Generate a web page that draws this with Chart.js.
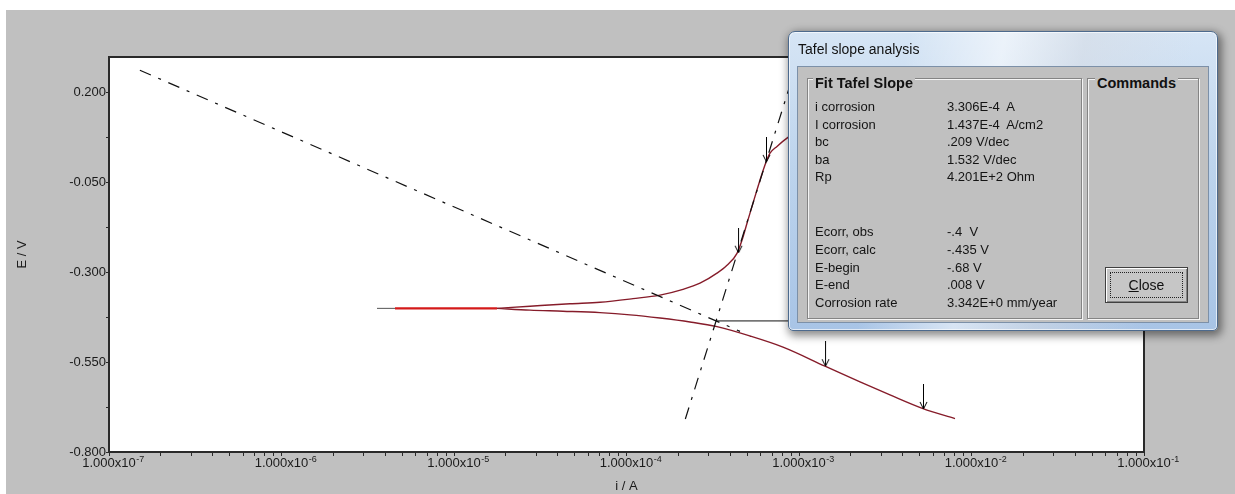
<!DOCTYPE html>
<html>
<head>
<meta charset="utf-8">
<title>Tafel slope analysis</title>
<script src="https://cdn.jsdelivr.net/npm/chart.js@4.4.1/dist/chart.umd.min.js"></script>
<style>
  html, body { margin: 0; padding: 0; background: #fff; width: 1235px; height: 494px; overflow: hidden; }
  #panel { position: absolute; left: 6px; top: 10px; right: 0; bottom: 0; background: #c0c0c0; }
  #tafel { position: absolute; left: 0; top: 0; }
  #dlg {
    position: absolute; left: 788px; top: 31px; width: 430px; height: 300px;
    box-sizing: border-box; border: 1px solid #4d6a8d; border-radius: 7px 7px 5px 5px;
    background:
      linear-gradient(100deg, rgba(255,255,255,0) 25%, rgba(255,255,255,0.55) 45%, rgba(215,220,228,0.55) 62%, rgba(255,255,255,0) 85%),
      linear-gradient(180deg, #d6e5f5 0%, #bdd4ed 45%, #a8c4e6 100%);
    box-shadow: 2px 3px 9px 2px rgba(0,0,0,0.45), inset 0 0 0 1px rgba(255,255,255,0.65);
    font-family: "Liberation Sans", Arial, sans-serif; color: #141414;
  }
  #dlg .cap { position: absolute; left: 9px; top: 9px; font-size: 14px; line-height: 16px; color: #111; }
  #dlg .client {
    position: absolute; left: 8px; top: 34px; width: 412px; height: 257px;
    box-sizing: border-box; background: #c0c0c0; border: 1px solid #7c90a8;
  }
  .grp {
    position: absolute; box-sizing: border-box; border: 1px solid #848484;
    box-shadow: 1px 1px 0 #f4f4f4, inset 1px 1px 0 #f4f4f4;
  }
  .grp .lg {
    position: absolute; top: -5px; background: #c0c0c0; padding: 0 2px;
    font-weight: bold; font-size: 14.5px; line-height: 18px; color: #111;
  }
  .row { position: absolute; font-size: 13px; line-height: 18px; white-space: pre; }
  .btn {
    position: absolute; left: 17px; top: 188px; width: 83px; height: 36px; box-sizing: border-box;
    border: 1px solid #404040; background: #c6c6c6;
    box-shadow: inset 1px 1px 0 #fff, inset -1px -1px 0 #858585;
  }
  .btn .focus {
    position: absolute; left: 4px; top: 4px; right: 4px; bottom: 4px;
    border: 1px dotted #222; display: flex; align-items: center; justify-content: center;
    font-size: 14px; color: #111;
  }
</style>
</head>
<body>
<div id="panel"></div>
<canvas id="tafel" width="1235" height="494"></canvas>
<div id="dlg">
  <div class="cap">Tafel slope analysis</div>
  <div class="client">
    <div class="grp" id="fit" style="left:9px; top:11px; width:275px; height:241px;">
      <span class="lg" style="left:5px;">Fit Tafel Slope</span>
    </div>
    <div class="grp" id="cmd" style="left:289px; top:11px; width:112px; height:241px;">
      <span class="lg" style="left:7px;">Commands</span>
      <div class="btn"><div class="focus"><span><u>C</u>lose</span></div></div>
    </div>
  </div>
</div>
<script>
// ---- Fit results (Tafel analysis) ----
const icorr = 3.306e-4;          // A
const icorrDensity = 1.437e-4;   // A/cm2
const bc = 0.209;                // V/dec
const ba = 1.532;                // V/dec
const rp = 420.1;                // Ohm
const ecorrObs = -0.4;           // V
const ecorrCalc = -0.435;        // V
const eBegin = -0.68;            // V
const eEnd = 0.008;              // V
const corrosionRate = 3.342;     // mm/year

// ---- Measured polarization curve, i (A) vs E (V) ----
const anodicI = [1.775e-5, 2.758e-5, 4.705e-5, 7.02e-5, 1.091e-4, 1.564e-4, 2.126e-4, 2.668e-4, 3.346e-4, 3.825e-4,
                 4.371e-4, 4.673e-4, 4.995e-4, 5.411e-4, 5.94e-4, 6.436e-4, 6.79e-4, 7.457e-4, 8.632e-4, 1.013e-3];
const anodicE = [-0.400, -0.394, -0.387, -0.383, -0.373, -0.363, -0.347, -0.330, -0.302, -0.280,
                 -0.247, -0.210, -0.163, -0.107, -0.043, 0.007, 0.032, 0.051, 0.076, 0.096];
const cathodicI = [1.775e-5, 2.758e-5, 4.283e-5, 7.02e-5, 1.048e-4, 1.564e-4, 2.334e-4, 3.346e-4,
                   5.198e-4, 8.077e-4, 1.415e-3, 2.258e-3, 3.369e-3, 5.234e-3, 8.02e-3];
const cathodicE = [-0.400, -0.405, -0.408, -0.412, -0.418, -0.427, -0.438, -0.451,
                   -0.477, -0.508, -0.561, -0.605, -0.641, -0.679, -0.707];
const nearEcorrI = [4.55e-6, 1.775e-5];
const nearEcorrE = [-0.400, -0.400];
const leadI = [3.578e-6, 4.55e-6];
const leadE = [-0.400, -0.400];

// extents of the extrapolated Tafel lines
const cathodicLineI = [1.51e-7, 4.55e-4];   // A
const anodicLineE = [-0.708, 0.25];         // V
const ecorrMarkerI = [icorr, 2.5e-3];       // A

// fit-range markers (arrows)
const arrowI = [6.436e-4, 4.43e-4, 1.415e-3, 5.234e-3];
const arrowE = [eEnd, -0.245, -0.561, eBegin];

// ---- Axes ----
const xDecadeExponents = [-7, -6, -5, -4, -3, -2, -1];
const xMinorMultipliers = [1, 2, 3, 4, 5, 6, 7, 8, 9];
const yMajorTicks = [-0.8, -0.55, -0.3, -0.05, 0.2];
const yMinorTicks = [-0.675, -0.425, -0.175, 0.075];
const xTitle = 'i / A';
const yTitle = 'E / V';

// ---- Dialog text ----
const fmtExp = v => v.toExponential(3).toUpperCase();
const fmtV = v => String(v).replace(/^(-?)0\./, '$1.');
const fitRowsTop = [
  ['i corrosion', fmtExp(icorr) + '  A'],
  ['I corrosion', fmtExp(icorrDensity) + '  A/cm2'],
  ['bc', fmtV(bc) + ' V/dec'],
  ['ba', fmtV(ba) + ' V/dec'],
  ['Rp', fmtExp(rp) + ' Ohm']
];
const fitRowsBottom = [
  ['Ecorr, obs', fmtV(ecorrObs) + '  V'],
  ['Ecorr, calc', fmtV(ecorrCalc) + ' V'],
  ['E-begin', fmtV(eBegin) + ' V'],
  ['E-end', fmtV(eEnd) + ' V'],
  ['Corrosion rate', fmtExp(corrosionRate) + ' mm/year']
];

(function buildDialog() {
  const box = document.getElementById('fit');
  const addRows = (rows, top0, step) => rows.forEach(([label, value], k) => {
    const top = top0 + k * step;
    const l = document.createElement('div');
    l.className = 'row'; l.style.left = '7px'; l.style.top = top + 'px'; l.textContent = label;
    const v = document.createElement('div');
    v.className = 'row'; v.style.left = '139px'; v.style.top = top + 'px'; v.textContent = value;
    box.appendChild(l); box.appendChild(v);
  });
  addRows(fitRowsTop, 19, 17.5);
  addRows(fitRowsBottom, 144, 17.75);
})();

// ---- Chart ----
const pts = (xs, ys) => xs.map((x, k) => ({ x, y: ys[k] }));
const cathodicLine = cathodicLineI.map(i => ({ x: i, y: ecorrCalc - bc * Math.log10(i / icorr) }));
const anodicLine = anodicLineE.map(e => ({ x: icorr * Math.pow(10, (e - ecorrCalc) / ba), y: e }));
const ecorrMarker = ecorrMarkerI.map(i => ({ x: i, y: ecorrCalc }));

function arrowGlyph(len) {
  const c = document.createElement('canvas');
  c.width = 12; c.height = len * 2;
  const g = c.getContext('2d');
  g.strokeStyle = '#000'; g.lineWidth = 1;
  g.beginPath();
  g.moveTo(6.5, 0); g.lineTo(6.5, len);
  g.moveTo(3, len - 7); g.lineTo(6.5, len); g.lineTo(10, len - 7);
  g.stroke();
  return c;
}

const FONT = '"Liberation Sans", Arial, sans-serif';
Chart.defaults.font.family = FONT;
Chart.defaults.color = '#1a1a1a';

const plotFrame = {
  id: 'plotFrame',
  beforeDraw(chart) {
    const { ctx, chartArea: a } = chart;
    ctx.save();
    ctx.fillStyle = '#ffffff';
    ctx.fillRect(a.left, a.top, a.right - a.left, a.bottom - a.top);
    ctx.restore();
  },
  afterDraw(chart) {
    const { ctx, chartArea: a } = chart;
    ctx.save();
    ctx.strokeStyle = '#2a2a2a';
    ctx.lineWidth = 2;
    ctx.strokeRect(a.left, a.top, a.right - a.left, a.bottom - a.top);
    ctx.restore();
  }
};

// decade labels of the current axis, written as 1.000x10 with a raised exponent
const decadeLabels = {
  id: 'decadeLabels',
  afterDraw(chart) {
    const sx = chart.scales.x, ctx = chart.ctx;
    ctx.save();
    ctx.fillStyle = '#1a1a1a';
    ctx.textBaseline = 'middle';
    ctx.textAlign = 'left';
    xDecadeExponents.forEach(e => {
      const px = sx.getPixelForValue(Math.pow(10, e));
      const base = '1.000x10';
      ctx.font = '13px ' + FONT;
      const w = ctx.measureText(base).width;
      ctx.fillText(base, px - w / 2, sx.top + 11);
      ctx.font = '9px ' + FONT;
      ctx.fillText(String(e), px + w / 2 + 0.5, sx.top + 7.5);
    });
    ctx.restore();
  }
};

const lineDs = (label, data, color, width, dash, smooth) => ({
  label, data, showLine: true, borderColor: color, backgroundColor: color,
  borderWidth: width, borderDash: dash || [], pointRadius: 0, pointHoverRadius: 0,
  cubicInterpolationMode: smooth ? 'monotone' : 'default', tension: 0
});

const curveColor = '#861c2a';
const tafelDash = [12, 8, 3, 8];

new Chart(document.getElementById('tafel'), {
  type: 'scatter',
  data: {
    datasets: [
      {
        label: 'fit range', data: pts(arrowI, arrowE), showLine: false,
        pointStyle: arrowGlyph(25), pointRadius: 5, pointHoverRadius: 5
      },
      lineDs('Ecorr', ecorrMarker, '#111111', 1),
      lineDs('anodic Tafel line', anodicLine, '#111111', 1.2, tafelDash),
      lineDs('cathodic Tafel line', cathodicLine, '#111111', 1.2, tafelDash),
      lineDs('anodic branch', pts(anodicI, anodicE), curveColor, 1.4, null, true),
      lineDs('cathodic branch', pts(cathodicI, cathodicE), curveColor, 1.4, null, true),
      lineDs('near Ecorr', pts(nearEcorrI, nearEcorrE), '#d41a1a', 2.4),
      lineDs('scan start', pts(leadI, leadE), '#555555', 1)
    ]
  },
  options: {
    responsive: false,
    animation: false,
    events: [],
    layout: { padding: { left: 0, top: 57, right: 91, bottom: 0 } },
    plugins: { legend: { display: false }, tooltip: { enabled: false } },
    scales: {
      x: {
        type: 'logarithmic', position: 'bottom',
        min: 1e-7, max: 1e-1,
        afterBuildTicks(scale) {
          const t = [];
          xDecadeExponents.forEach((e, k) => {
            if (k === xDecadeExponents.length - 1) { t.push({ value: Math.pow(10, e) }); return; }
            xMinorMultipliers.forEach(m => t.push({ value: m * Math.pow(10, e) }));
          });
          scale.ticks = t;
        },
        afterFit(scale) { scale.height = 42; },
        ticks: { autoSkip: false, maxRotation: 0, callback: () => '' },
        grid: { drawOnChartArea: false, drawTicks: true, tickLength: 4, color: '#2a2a2a', lineWidth: 1 },
        border: { display: false },
        title: { display: true, text: xTitle, font: { size: 13 }, color: '#1a1a1a', padding: { top: 0, bottom: 0 } }
      },
      y: {
        type: 'linear', position: 'left',
        min: -0.8, max: 0.3,
        afterBuildTicks(scale) {
          scale.ticks = yMajorTicks.concat(yMinorTicks).sort((a, b) => a - b).map(v => ({ value: v }));
        },
        afterFit(scale) { scale.width = 109; },
        ticks: {
          autoSkip: false, padding: 0, font: { size: 13 }, color: '#1a1a1a',
          callback: v => yMajorTicks.some(m => Math.abs(m - v) < 1e-9) ? v.toFixed(3) : ''
        },
        grid: { drawOnChartArea: false, drawTicks: true, tickLength: 3, color: '#2a2a2a', lineWidth: 1 },
        border: { display: false },
        title: { display: true, text: yTitle, font: { size: 13 }, color: '#1a1a1a', padding: { top: 15, bottom: 0 } }
      }
    }
  },
  plugins: [plotFrame, decadeLabels]
});
</script>
</body>
</html>
